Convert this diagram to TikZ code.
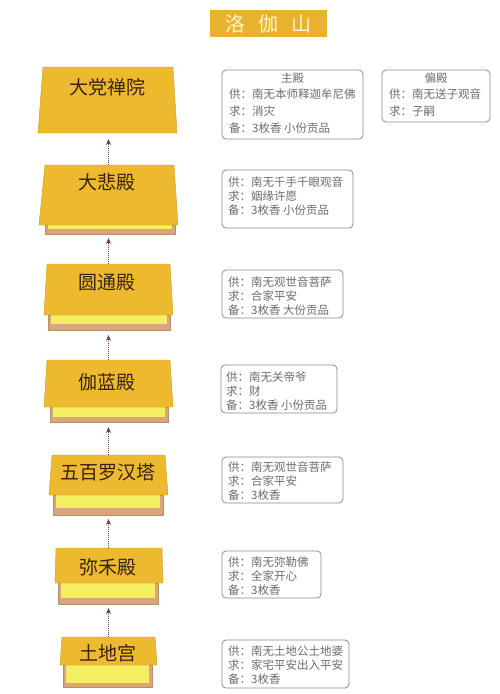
\documentclass[tikz,border=0pt]{standalone}
\usepackage{fontspec}
\usepackage{xcolor}
\usepackage{tikz}
\usetikzlibrary{arrows.meta}
\newfontfamily\cjk{Noto Sans CJK SC}

\definecolor{roofgold}{HTML}{EDB92E}
\definecolor{stripyellow}{HTML}{F3EE62}
\definecolor{basetan}{HTML}{D9A67C}
\definecolor{titlegold}{HTML}{E8B22F}
\definecolor{titlecream}{HTML}{FFF4C9}
\definecolor{hallbrown}{HTML}{3A2216}
\definecolor{notegray}{HTML}{8A8A86}
\definecolor{noteink}{HTML}{6C6C68}
\definecolor{flowred}{HTML}{6E3B48}

\tikzset{
  roof/.style={fill=roofgold, draw=roofgold!85!black, line width=0.4pt},
  strip/.style={fill=stripyellow},
  hallbase/.style={fill=basetan, draw=basetan!85!black, line width=0.4pt},
  hallname/.style={text=hallbrown, font=\cjk\fontsize{19}{19}\selectfont, inner sep=0pt},
  titletext/.style={text=titlecream, font=\cjk\fontsize{20}{20}\selectfont, inner sep=0pt},
  note/.style={draw=notegray, fill=white, rounded corners=4pt, line width=0.8pt},
  noteline/.style={text=noteink, font=\cjk\fontsize{11.5}{11.5}\selectfont, inner sep=0pt, anchor=west},
  notehead/.style={text=noteink, font=\cjk\fontsize{11.5}{11.5}\selectfont, inner sep=0pt},
  upflow/.style={draw=flowred, densely dotted, line width=1pt, -{Stealth[length=6pt, width=5pt]}}
}

\begin{document}
\begin{tikzpicture}[x=1pt, y=-1pt]
        \fill [white] (0,0) rectangle (500,694);                                 %canvas

        \fill [titlegold] (210,10) rectangle (327,37);                           %title
        \node (title) [titletext] at (268.5,23.5) {洛\hspace{13pt}伽\hspace{13pt}山};

        % halls, top to bottom
        \draw [roof] (43,67) -- (173,67) -- (177,133) -- (38,133) -- cycle;      %大党禅院
        \node (dajue) [hallname] at (107,87) {大党禅院};                        %
        \coordinate (dajueFoot) at (108.5,139);

        \draw [hallbase] (45,225) rectangle (175,234);                           %
        \fill [strip]    (48,225) rectangle (172,229);                           %
        \draw [roof] (45,165) -- (174,165) -- (178,225) -- (39,225) -- cycle;    %大悲殿
        \node (dabei) [hallname] at (107,182) {大悲殿};                          %
        \coordinate (dabeiTop)  at (108.5,165);
        \coordinate (dabeiFoot) at (108.5,238);

        \draw [hallbase] (48,315) rectangle (170,330);                           %
        \fill [strip]    (51,315) rectangle (167,324);                           %
        \draw [roof] (47,264) -- (170,264) -- (173,315) -- (44,315) -- cycle;    %圆通殿
        \node (yuantong) [hallname] at (107,283) {圆通殿};                       %
        \coordinate (yuantongTop)  at (108.5,264);
        \coordinate (yuantongFoot) at (108.5,335);

        \draw [hallbase] (50,407) rectangle (168,422);                           %
        \fill [strip]    (53,407) rectangle (165,417);                           %
        \draw [roof] (47,360) -- (170,360) -- (173,407) -- (44,407) -- cycle;    %伽蓝殿
        \node (qielan) [hallname] at (107,382) {伽蓝殿};                         %
        \coordinate (qielanTop)  at (108.5,360);
        \coordinate (qielanFoot) at (108.5,427);

        \draw [hallbase] (53,495) rectangle (163,515);                           %
        \fill [strip]    (56,495) rectangle (160,508);                           %
        \draw [roof] (52,455) -- (165,455) -- (168,495) -- (49,495) -- cycle;    %五百罗汉塔
        \node (wubai) [hallname] at (108,472) {五百罗汉塔};                      %
        \coordinate (wubaiTop)  at (108.5,455);
        \coordinate (wubaiFoot) at (108.5,519);

        \draw [hallbase] (58,583) rectangle (158,604);                           %
        \fill [strip]    (61,583) rectangle (155,598);                           %
        \draw [roof] (56,548) -- (162,548) -- (163,583) -- (55,583) -- cycle;    %弥禾殿
        \node (mihe) [hallname] at (108,567) {弥禾殿};                           %
        \coordinate (miheTop)  at (108.5,548);
        \coordinate (miheFoot) at (108.5,608);

        \draw [hallbase] (63,665) rectangle (152,687);                           %
        \fill [strip]    (66,665) rectangle (149,683);                           %
        \draw [roof] (62,637) -- (155,637) -- (157,665) -- (60,665) -- cycle;    %土地宫
        \node (tudi) [hallname] at (108,653) {土地宫};                           %
        \coordinate (tudiTop) at (108.5,637);

        % way up
        \draw [upflow] (dabeiTop)    -- (dajueFoot);
        \draw [upflow] (yuantongTop) -- (dabeiFoot);
        \draw [upflow] (qielanTop)   -- (yuantongFoot);
        \draw [upflow] (wubaiTop)    -- (qielanFoot);
        \draw [upflow] (miheTop)     -- (wubaiFoot);
        \draw [upflow] (tudiTop)     -- (miheFoot);

        % notes
        \draw [note] (222,70) rectangle (363,139);                               %主殿
        \node (zhuHead) [notehead] at (292.5,78)  {主殿};
        \node (zhuGong) [noteline] at (229,94)    {供：南无本师释迦牟尼佛};
        \node (zhuQiu)  [noteline] at (229,111)   {求：消灾};
        \node (zhuBei)  [noteline] at (229,128)   {备：3枚香 小份贡品};

        \draw [note] (382,70) rectangle (490,122);                               %偏殿
        \node (pianHead) [notehead] at (436,78)   {偏殿};
        \node (pianGong) [noteline] at (389,94)   {供：南无送子观音};
        \node (pianQiu)  [noteline] at (389,111)  {求：子嗣};

        \draw [note] (222,170) rectangle (353,228);                              %大悲殿
        \node (dabeiGong) [noteline] at (228,182) {供：南无千手千眼观音};
        \node (dabeiQiu)  [noteline] at (228,196) {求：姻缘许愿};
        \node (dabeiBei)  [noteline] at (228,210) {备：3枚香 小份贡品};

        \draw [note] (222,270) rectangle (343,318);                              %圆通殿
        \node (yuantongGong) [noteline] at (228,282) {供：南无观世音菩萨};
        \node (yuantongQiu)  [noteline] at (228,296) {求：合家平安};
        \node (yuantongBei)  [noteline] at (228,310) {备：3枚香 大份贡品};

        \draw [note] (221,365) rectangle (337,413);                              %伽蓝殿
        \node (qielanGong) [noteline] at (226,377) {供：南无关帝爷};
        \node (qielanQiu)  [noteline] at (226,391) {求：财};
        \node (qielanBei)  [noteline] at (226,405) {备：3枚香 小份贡品};

        \draw [note] (222,457) rectangle (343,503);                              %五百罗汉塔
        \node (wubaiGong) [noteline] at (228,467) {供：南无观世音菩萨};
        \node (wubaiQiu)  [noteline] at (228,481) {求：合家平安};
        \node (wubaiBei)  [noteline] at (228,495) {备：3枚香};

        \draw [note] (222,551) rectangle (321,598);                              %弥禾殿
        \node (miheGong) [noteline] at (228,562) {供：南无弥勒佛};
        \node (miheQiu)  [noteline] at (228,576) {求：全家开心};
        \node (miheBei)  [noteline] at (228,590) {备：3枚香};

        \draw [note] (222,640) rectangle (349,688);                              %土地宫
        \node (tudiGong) [noteline] at (228,651) {供：南无土地公土地婆};
        \node (tudiQiu)  [noteline] at (228,665) {求：家宅平安出入平安};
        \node (tudiBei)  [noteline] at (228,679) {备：3枚香};
      \end{tikzpicture}
\end{document}
